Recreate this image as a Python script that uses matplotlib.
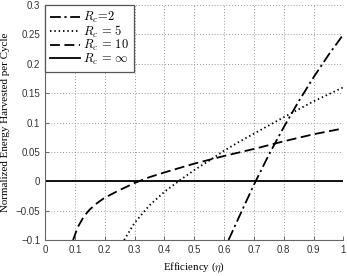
import matplotlib
matplotlib.use("Agg")
import matplotlib.pyplot as plt

plt.rcParams['mathtext.fontset'] = 'cm'

eta_r2 = [0.615, 0.65, 0.70, 0.75, 0.80, 0.85, 0.90, 0.95, 1.00]
e_r2 = [-0.100, -0.061, -0.006, 0.045, 0.092, 0.136, 0.177, 0.215, 0.250]

eta_r5 = [0.265, 0.30, 0.35, 0.40, 0.45, 0.50, 0.55, 0.60, 0.65, 0.70, 0.80, 0.90, 1.00]
e_r5 = [-0.100, -0.071, -0.041, -0.018, 0.001, 0.019, 0.035, 0.052, 0.067, 0.081, 0.109, 0.136, 0.160]

eta_r10 = [0.094, 0.11, 0.13, 0.15, 0.175, 0.20, 0.25, 0.30, 0.35, 0.40, 0.50, 0.60, 0.70, 0.80, 0.90, 1.00]
e_r10 = [-0.100, -0.078, -0.060, -0.048, -0.037, -0.028, -0.015, -0.003, 0.007, 0.015, 0.030, 0.043, 0.055, 0.068, 0.080, 0.090]

eta_inf = [0.0, 1.0]
e_inf = [0.0, 0.0]

labels = [r'$R_c\!=\!2$', r'$R_c\,=\,5$', r'$R_c\,=\,10$', r'$R_c\,=\,\infty$']

xticks = [0, 0.1, 0.2, 0.3, 0.4, 0.5, 0.6, 0.7, 0.8, 0.9, 1.0]
xticklabels = ['0', '0.1', '0.2', '0.3', '0.4', '0.5', '0.6', '0.7', '0.8', '0.9', '1']
yticks = [-0.1, -0.05, 0, 0.05, 0.1, 0.15, 0.2, 0.25, 0.3]
yticklabels = ['\u22120.1', '\u22120.05', '0', '0.05', '0.1', '0.15', '0.2', '0.25', '0.3']

fig = plt.figure(figsize=(3.47, 2.76), dpi=100)
ax = fig.add_axes([0.1297, 0.1304, 0.860, 0.8515])

lw = 1.3
ax.plot(eta_r2, e_r2, color='black', lw=lw, dashes=(6, 2, 1.2, 2), label=labels[0])
ax.plot(eta_r5, e_r5, color='black', lw=lw, dashes=(0.8, 1.6), label=labels[1])
ax.plot(eta_r10, e_r10, color='black', lw=lw, dashes=(5.5, 2.5), label=labels[2])
ax.plot(eta_inf, e_inf, color='black', lw=lw, label=labels[3])

ax.set_xlim(0, 1)
ax.set_ylim(-0.1, 0.3)
ax.set_xticks(xticks)
ax.set_xticklabels(xticklabels)
ax.set_yticks(yticks)
ax.set_yticklabels(yticklabels)
ax.tick_params(direction='in', labelsize=7, length=3, color='#555555', width=0.6)
for lab in ax.get_xticklabels() + ax.get_yticklabels():
    lab.set_family('Liberation Sans')
    lab.set_color('#333333')

ax.grid(True, linestyle=(0, (1, 2)), color='#999999', lw=0.7)
for s in ['top', 'right']:
    ax.spines[s].set_visible(False)
for s in ['left', 'bottom']:
    ax.spines[s].set_color('#666666')
    ax.spines[s].set_linewidth(0.8)

ax.set_xlabel(r'Efficiency ($\eta$)', family='Liberation Serif', fontsize=7.8, labelpad=4)
ax.set_ylabel('Normalized Energy Harvested per Cycle', family='Liberation Serif', fontsize=7.9, labelpad=4)

leg = ax.legend(loc='upper left', fontsize=9, handlelength=2.4, handletextpad=0.25,
                borderpad=0.4, labelspacing=-0.12, borderaxespad=0.0, fancybox=False,
                framealpha=1)
leg.get_frame().set_edgecolor('#555555')
leg.get_frame().set_linewidth(0.9)

fig.savefig('out.png', dpi=100)
